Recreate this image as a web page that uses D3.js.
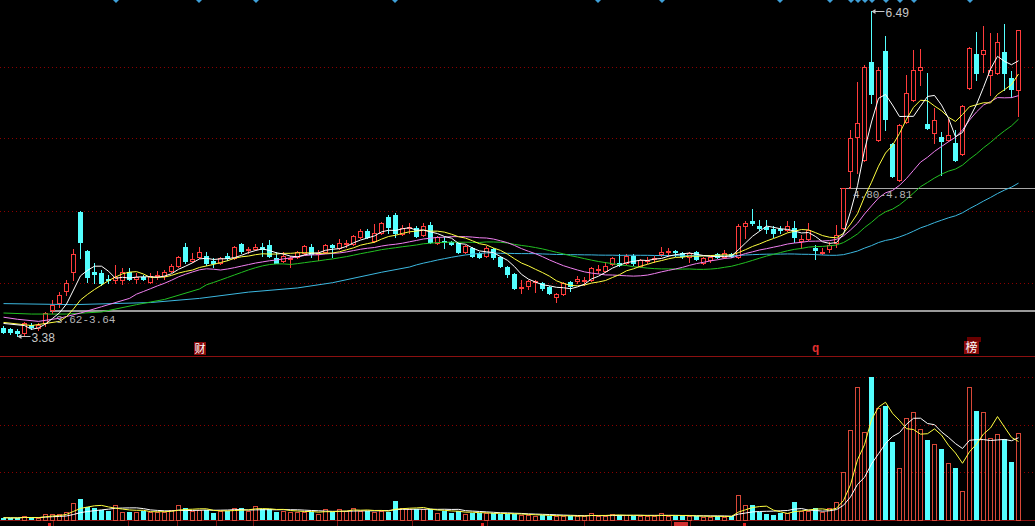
<!DOCTYPE html>
<html><head><meta charset="utf-8">
<script src="https://cdn.jsdelivr.net/npm/d3@7"></script>
<style>html,body{margin:0;padding:0;background:#000;overflow:hidden}</style>
</head><body><svg id="c" width="1035" height="526"></svg>
<script>
const open=[3.46,3.45,3.43,3.41,3.49,3.46,3.50,3.63,3.70,3.81,
3.99,4.57,4.19,3.99,3.98,3.93,3.92,3.92,3.99,3.93,
3.94,3.90,3.95,3.95,4.00,4.05,4.23,4.10,4.14,4.15,
4.10,4.08,4.15,4.13,4.26,4.20,4.21,4.23,4.25,4.13,
4.10,4.12,4.14,4.17,4.23,4.16,4.18,4.25,4.22,4.26,
4.26,4.33,4.38,4.29,4.37,4.52,4.54,4.36,4.41,4.41,
4.35,4.44,4.27,4.29,4.28,4.27,4.18,4.22,4.17,4.15,
4.21,4.14,4.04,3.97,3.84,3.86,3.90,3.89,3.85,3.75,
3.78,3.90,3.91,3.91,3.92,4.01,4.00,4.07,4.08,4.08,
4.15,4.05,4.10,4.12,4.16,4.18,4.19,4.17,4.14,4.18,
4.08,4.11,4.16,4.14,4.16,4.14,4.43,4.48,4.43,4.42,
4.40,4.40,4.39,4.41,4.29,4.31,4.22,4.17,4.21,4.27,
4.41,4.96,5.28,5.06,6.00,5.26,6.11,5.22,4.87,5.43,
5.64,5.93,5.41,5.32,5.28,5.26,5.23,5.12,5.75,6.08,
6.08,5.88,5.90,6.10,5.85,5.73];
const high=[3.48,3.46,3.45,3.51,3.50,3.50,3.61,3.72,3.80,3.92,
4.21,4.58,4.20,4.08,4.01,3.96,4.06,4.03,4.03,3.98,
3.96,3.98,4.00,4.01,4.07,4.15,4.27,4.17,4.23,4.18,
4.13,4.14,4.17,4.24,4.27,4.23,4.26,4.27,4.30,4.18,
4.18,4.15,4.19,4.25,4.26,4.20,4.26,4.26,4.31,4.30,
4.35,4.40,4.40,4.45,4.47,4.54,4.56,4.44,4.46,4.43,
4.46,4.47,4.34,4.33,4.29,4.28,4.25,4.23,4.18,4.24,
4.22,4.15,4.05,3.98,3.92,3.92,3.92,3.90,3.86,3.79,
3.90,3.91,3.95,3.94,4.04,4.06,4.09,4.14,4.16,4.16,
4.16,4.12,4.14,4.15,4.23,4.22,4.20,4.18,4.18,4.19,
4.14,4.15,4.17,4.20,4.17,4.45,4.48,4.60,4.49,4.49,
4.43,4.43,4.48,4.48,4.35,4.46,4.25,4.22,4.28,4.44,
4.80,5.35,5.81,5.97,6.49,5.95,6.25,5.23,5.41,5.88,
6.12,6.13,5.90,5.56,5.33,5.46,5.35,5.59,6.15,6.29,
6.35,6.28,6.28,6.37,5.92,6.31];
const low=[3.41,3.40,3.38,3.39,3.45,3.44,3.48,3.60,3.66,3.77,
3.92,4.13,3.90,3.89,3.87,3.89,3.89,3.88,3.92,3.89,
3.92,3.89,3.93,3.93,3.99,4.04,4.08,4.09,4.13,4.06,
4.04,4.07,4.11,4.12,4.17,4.17,4.20,4.15,4.14,4.08,
4.09,4.04,4.13,4.16,4.14,4.11,4.17,4.14,4.21,4.23,
4.25,4.32,4.32,4.28,4.36,4.37,4.33,4.35,4.37,4.33,
4.34,4.27,4.26,4.22,4.25,4.17,4.17,4.14,4.13,4.14,
4.12,4.04,3.94,3.83,3.79,3.83,3.80,3.82,3.78,3.71,
3.77,3.81,3.89,3.87,3.91,3.98,3.99,4.06,4.05,4.07,
4.06,4.04,4.08,4.09,4.15,4.15,4.15,4.13,4.09,4.11,
4.07,4.09,4.13,4.13,4.14,4.13,4.32,4.44,4.39,4.37,
4.33,4.37,4.38,4.28,4.22,4.30,4.12,4.16,4.18,4.23,
4.40,4.80,4.94,5.05,5.61,5.25,5.35,4.90,4.86,5.42,
5.63,5.78,5.36,5.23,4.92,5.25,5.05,5.11,5.74,5.83,
5.91,5.69,5.89,5.73,5.67,5.49];
const close=[3.42,3.42,3.41,3.50,3.47,3.49,3.60,3.68,3.77,3.89,
4.16,4.28,3.94,3.97,3.89,3.92,3.94,3.99,3.93,3.94,
3.93,3.95,3.96,3.99,4.05,4.14,4.10,4.12,4.18,4.08,
4.08,4.13,4.13,4.23,4.19,4.21,4.23,4.21,4.15,4.08,
4.15,4.13,4.18,4.24,4.16,4.17,4.25,4.23,4.27,4.27,
4.34,4.38,4.33,4.37,4.46,4.42,4.37,4.41,4.42,4.34,
4.43,4.28,4.33,4.28,4.26,4.18,4.24,4.15,4.14,4.22,
4.14,4.05,3.97,3.84,3.85,3.91,3.91,3.84,3.79,3.78,
3.89,3.86,3.93,3.92,4.03,4.02,4.05,4.13,4.06,4.15,
4.08,4.11,4.11,4.13,4.18,4.19,4.18,4.15,4.17,4.12,
4.13,4.14,4.14,4.17,4.15,4.43,4.46,4.46,4.41,4.40,
4.37,4.39,4.43,4.33,4.31,4.39,4.20,4.18,4.25,4.35,
4.80,5.27,5.42,5.95,5.70,5.93,5.46,4.91,5.40,5.71,
5.93,5.95,5.37,5.45,5.25,5.30,5.06,5.58,6.14,5.90,
6.12,5.93,6.19,5.90,5.74,6.31];
const volume=[0.48,0.42,0.42,0.84,0.42,0.42,1.26,1.26,1.26,1.68,
3.56,4.40,2.73,2.52,2.10,1.95,3.14,1.74,1.61,1.74,
1.95,1.68,1.68,1.68,2.10,3.14,2.45,1.95,2.10,2.10,
1.53,1.89,1.95,2.45,2.45,1.89,2.94,2.24,2.24,1.74,
1.95,1.74,1.74,1.74,1.74,1.26,2.24,1.74,2.24,1.89,
2.45,1.95,1.95,1.74,1.95,1.74,3.98,2.45,2.24,2.24,
2.24,2.24,1.53,1.95,1.53,1.95,1.26,1.53,1.40,1.40,
1.40,1.26,1.26,1.26,1.05,1.05,0.84,1.05,0.84,0.84,
0.84,0.84,0.84,0.84,1.40,0.84,0.84,1.19,1.05,1.05,
0.84,0.84,0.84,0.84,1.40,0.84,0.84,0.84,0.84,0.84,
0.69,0.69,0.84,0.69,0.84,5.24,3.14,3.14,1.74,1.26,
1.05,1.40,1.40,3.71,1.95,1.95,2.45,1.61,2.58,3.71,
10.13,18.87,27.88,18.39,29.92,23.42,23.90,16.29,10.84,21.32,
22.58,19.01,16.77,15.87,14.88,11.89,10.84,6.02,27.95,22.85,
22.58,17.13,17.97,16.92,12.10,18.18];
const ma5Lead=[[0,3.50],[3,3.48]];
const ma10Lead=[[0,3.51],[4,3.48],[8,3.52]];
const ma20Lead=[[0,3.56],[2,3.54],[5,3.52],[8,3.55],[11,3.60],[14,3.66],[18,3.74]];
const ma30Lead=[[0,3.60],[4,3.59],[9,3.59],[14,3.61],[19,3.68],[23,3.73],[28,3.83]];
const ma60Lead=[[0,3.69],[10,3.68],[21,3.70],[28,3.74],[35,3.80],[42,3.84],[47,3.89],[54,3.99],[58,4.04]];
const gridPrices=[5.95,5.27,4.58,3.89];
const gridVolumes=[10,20,30];
const markerIdx=[16,28,36,56,85,94,111,118,121,122,123,124,126,128,130,138];

const N=close.length;
const svg=d3.select('#c');
const W=1035;
const RED='#ff3c3c', CYAN='#54ffff', GRID='#8b0000';
const x=d3.scaleLinear().domain([0,N-1]).range([3.5,1018.5]);
const y=d3.scaleLinear().domain([3.38,6.49]).range([336,11]);
const yv=d3.scaleLinear().domain([0,30]).range([520,377]);

svg.append('rect').attr('width',W).attr('height',526).attr('fill','#000');

// grid
const g=svg.append('g');
gridPrices.forEach(p=>{const yy=Math.round(y(p))+0.5;
 g.append('line').attr('x1',0).attr('x2',W).attr('y1',yy).attr('y2',yy).attr('stroke',GRID).attr('stroke-dasharray','1,3');});
gridVolumes.forEach(v=>{const yy=Math.round(yv(v))+0.5;
 g.append('line').attr('x1',0).attr('x2',W).attr('y1',yy).attr('y2',yy).attr('stroke',GRID).attr('stroke-dasharray','1,3');});
g.append('line').attr('x1',0).attr('x2',W).attr('y1',356.5).attr('y2',356.5).attr('stroke','#8b1010');
g.append('line').attr('x1',0).attr('x2',W).attr('y1',520.5).attr('y2',520.5).attr('stroke','#8b1010');
[53,128,177,216,253,337,412,487,584,671,690].forEach(sx=>{
 g.append('line').attr('x1',sx+0.5).attr('x2',sx+0.5).attr('y1',521).attr('y2',526).attr('stroke','#7a1010');});
g.append('rect').attr('x',674).attr('y',522).attr('width',14).attr('height',4).attr('fill','#d03030');
[49,482,744].forEach(sx=>g.append('rect').attr('x',sx-1).attr('y',523).attr('width',3).attr('height',3).attr('fill','#e02020'));

// reference lines
svg.append('rect').attr('x',50).attr('y',Math.round(y(3.63))).attr('width',W-50).attr('height',2).attr('fill','#9a9a9a');
svg.append('line').attr('x1',840).attr('x2',W).attr('y1',Math.round(y(4.80))+0.5).attr('y2',Math.round(y(4.80))+0.5).attr('stroke','#a8a8a8');

// candles
const cg=svg.append('g');
for(let i=0;i<N;i++){
 const cx=x(i), up=close[i]>=open[i];
 const t=Math.round(y(Math.max(open[i],close[i]))), b=Math.round(y(Math.min(open[i],close[i])));
 const yh=Math.round(y(high[i])), yl=Math.round(y(low[i]));
 const col=up?RED:CYAN;
 if(b-t<1){
  cg.append('line').attr('x1',cx).attr('x2',cx).attr('y1',yh).attr('y2',yl+1).attr('stroke',col);
  cg.append('line').attr('x1',cx-2.5).attr('x2',cx+2.5).attr('y1',t+0.5).attr('y2',t+0.5).attr('stroke',col);
 } else if(up){
  if(yh<t) cg.append('line').attr('x1',cx).attr('x2',cx).attr('y1',yh).attr('y2',t).attr('stroke',col);
  if(yl>b) cg.append('line').attr('x1',cx).attr('x2',cx).attr('y1',b).attr('y2',yl+1).attr('stroke',col);
  cg.append('rect').attr('x',cx-2).attr('y',t+0.5).attr('width',4).attr('height',b-t).attr('fill','none').attr('stroke',col);
 } else {
  cg.append('line').attr('x1',cx).attr('x2',cx).attr('y1',yh).attr('y2',yl+1).attr('stroke',col);
  cg.append('rect').attr('x',cx-2.5).attr('y',t).attr('width',5).attr('height',b-t+1).attr('fill',col);
 }
}

// volume bars
const vg=svg.append('g');
for(let i=0;i<N;i++){
 const cx=x(i), up=close[i]>=open[i];
 const t=Math.round(yv(volume[i]));
 if(up) vg.append('rect').attr('x',cx-2).attr('y',t+0.5).attr('width',4).attr('height',Math.max(1,520-t)).attr('fill','none').attr('stroke','#d84838');
 else vg.append('rect').attr('x',cx-2.5).attr('y',t).attr('width',5).attr('height',520-t).attr('fill',CYAN);
}

// moving averages
function maPoints(arr,n,lead){
 const pts=lead?lead.map(d=>[d[0],d[1]]):[];
 const start=lead?n-1:0;
 for(let i=start;i<N;i++){
  const s=Math.max(0,i-n+1); pts.push([i,d3.mean(arr.slice(s,i+1))]);
 }
 return pts;
}
const lineP=d3.line().x(d=>x(d[0])).y(d=>y(d[1]));
const lineV=d3.line().x(d=>x(d[0])).y(d=>yv(d[1]));
const mas=[[60,ma60Lead,'#3cb8e0'],[30,ma30Lead,'#22c022'],[20,ma20Lead,'#f080f0'],[10,ma10Lead,'#ffff40'],[5,ma5Lead,'#ffffff']];
mas.forEach(([n,lead,c])=>svg.append('path').attr('d',lineP(maPoints(close,n,lead))).attr('fill','none').attr('stroke',c).attr('stroke-width',1));
svg.append('path').attr('d',lineV(maPoints(volume,10,null))).attr('fill','none').attr('stroke','#ffffff').attr('stroke-width',1);
svg.append('path').attr('d',lineV(maPoints(volume,5,null))).attr('fill','none').attr('stroke','#ffff40').attr('stroke-width',1);

// top markers
markerIdx.forEach(i=>{const mx=Math.round(x(i));
 svg.append('path').attr('d',`M${mx-3},0L${mx+3},0L${mx},3Z`).attr('fill','#3fa0d8');});

// labels
const lab=svg.append('g');
function arrowLabel(i,p,txt){
 const ax=x(i), ay=Math.round(y(p))+0.5;
 lab.append('line').attr('x1',ax+1).attr('x2',ax+13).attr('y1',ay).attr('y2',ay).attr('stroke','#c8c8c8');
 lab.append('path').attr('d',`M${ax},${ay}L${ax+4},${ay-2.5}L${ax+4},${ay+2.5}Z`).attr('fill','#c8c8c8');
 lab.append('text').attr('x',ax+14).attr('y',ay+5).attr('fill','#c8c8c8').attr('font-family','Liberation Sans, Arial, sans-serif').attr('font-size',12).text(txt);
}
arrowLabel(124,6.49,'6.49');
arrowLabel(2,3.38,'3.38');
lab.append('text').attr('x',56).attr('y',323).attr('fill','#b4b4b4').attr('font-family','Liberation Mono, monospace').attr('font-size',11).text('3.62-3.64');
lab.append('text').attr('x',853).attr('y',198).attr('fill','#b4b4b4').attr('font-family','Liberation Mono, monospace').attr('font-size',11).text('4.80-4.81');
lab.append('rect').attr('x',849).attr('y',187).attr('width',2).attr('height',2).attr('fill','#ff6060');
lab.append('rect').attr('x',194).attr('y',342).attr('width',12).attr('height',13).attr('fill','#8b0a0a');
lab.append('text').attr('x',200).attr('y',353).attr('text-anchor','middle').attr('fill','#fff').attr('font-family','Noto Sans CJK SC').attr('font-size',11).text('财');
lab.append('text').attr('x',815.5).attr('y',352).attr('text-anchor','middle').attr('fill','#e03030').attr('font-family','Liberation Mono, monospace').attr('font-weight','bold').attr('font-size',12).text('q');
lab.append('rect').attr('x',967).attr('y',337).attr('width',14).attr('height',5).attr('fill','#6a0000');
lab.append('rect').attr('x',964).attr('y',341).attr('width',15).attr('height',13).attr('fill','#8b0a0a');
lab.append('text').attr('x',971.5).attr('y',352).attr('text-anchor','middle').attr('fill','#fff').attr('font-family','Noto Sans CJK SC').attr('font-size',12).text('榜');
</script></body></html>
